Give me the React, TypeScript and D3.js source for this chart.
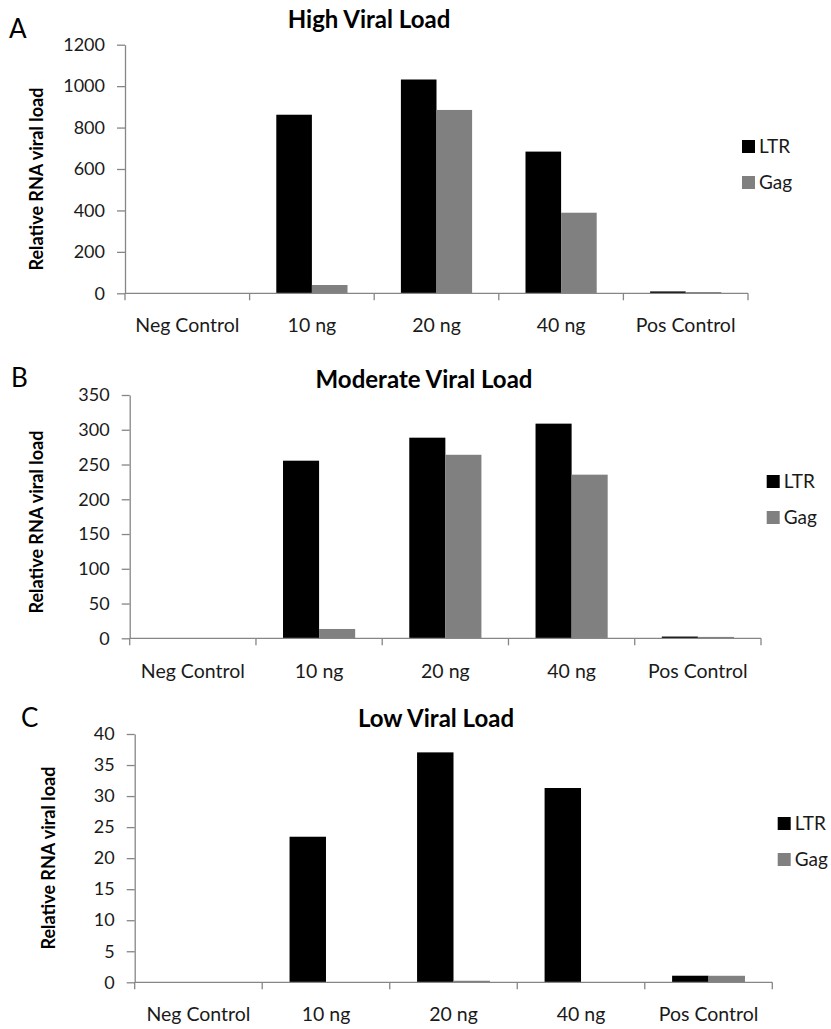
import React, { useEffect, useRef } from 'react';
import * as d3 from 'd3';

const categories = ['Neg Control', '10 ng', '20 ng', '40 ng', 'Pos Control'];
const seriesNames = ['LTR', 'Gag'];
const seriesColors = ['#000000', '#808080'];

// values
const highLTR = [0, 862, 1032, 684, 9];
const highGag = [0, 40, 885, 389, 6];
const moderateLTR = [0, 255.5, 288.6, 308.8, 2.5];
const moderateGag = [0, 13.4, 264, 235.4, 2];
const lowLTR = [0, 23.45, 37.04, 31.3, 1.06];
const lowGag = [0, 0, 0.25, 0, 1.05];

const highTicks = [0, 200, 400, 600, 800, 1000, 1200];
const moderateTicks = [0, 50, 100, 150, 200, 250, 300, 350];
const lowTicks = [0, 5, 10, 15, 20, 25, 30, 35, 40];

const FONT = 'Lato, "Open Sans", sans-serif';

const panels = [
  {
    letter: 'A', title: 'High Viral Load', ltr: highLTR, gag: highGag, ticks: highTicks,
    left: 125, right: 748, top: 44.7, bottom: 293.3,
    letterPos: [9, 38], titlePos: [369, 28], yLabel: [43, 179],
    legendX: 742, legendY: 140, labelY: 332,
  },
  {
    letter: 'B', title: 'Moderate Viral Load', ltr: moderateLTR, gag: moderateGag, ticks: moderateTicks,
    left: 129.7, right: 761, top: 395, bottom: 638.3,
    letterPos: [11, 387], titlePos: [424, 388], yLabel: [43, 522],
    legendX: 766.7, legendY: 475, labelY: 678,
  },
  {
    letter: 'C', title: 'Low Viral Load', ltr: lowLTR, gag: lowGag, ticks: lowTicks,
    left: 134.7, right: 772.3, top: 734, bottom: 982.3,
    letterPos: [21, 727], titlePos: [436, 727], yLabel: [55, 858],
    legendX: 777.7, legendY: 817, labelY: 1021,
  },
];

export default function App() {
  const svgRef = useRef<SVGSVGElement>(null);

  useEffect(() => {
    if (!svgRef.current) return;
    const svg = d3.select(svgRef.current);
    svg.selectAll('*').remove();

    panels.forEach((p) => {
      const g = svg.append('g');
      const maxV = p.ticks[p.ticks.length - 1];

      const x0 = d3.scaleBand().domain(categories).range([p.left, p.right]).padding(0);
      // Excel style gap width 150%
      const x1 = d3
        .scaleBand()
        .domain(seriesNames)
        .range([0, x0.bandwidth()])
        .paddingInner(0)
        .paddingOuter(0.75);
      const y = d3.scaleLinear().domain([0, maxV]).range([p.bottom, p.top]);

      // bars
      const rows = categories.map((c, i) => ({ cat: c, vals: [p.ltr[i], p.gag[i]] }));
      rows.forEach((r) => {
        r.vals.forEach((v, si) => {
          if (v <= 0) return;
          g.append('rect')
            .attr('x', (x0(r.cat) || 0) + (x1(seriesNames[si]) || 0))
            .attr('y', y(v))
            .attr('width', x1.bandwidth())
            .attr('height', p.bottom - y(v))
            .attr('fill', seriesColors[si]);
        });
      });

      // y axis
      const yAxis = g
        .append('g')
        .attr('transform', `translate(${p.left},0)`)
        .call(
          d3
            .axisLeft(y)
            .tickValues(p.ticks)
            .tickFormat(d3.format('d'))
            .tickSize(8)
            .tickPadding(12)
            .tickSizeOuter(0)
        );
      yAxis.select('.domain').attr('stroke', '#868686').attr('stroke-width', 1.3);
      yAxis.selectAll('.tick line').attr('stroke', '#868686').attr('stroke-width', 1.3);
      yAxis
        .selectAll('text')
        .style('font-family', FONT)
        .style('font-size', '18px')
        .style('fill', '#1a1a1a');

      // x axis
      const xAxisG = g.append('g').attr('transform', `translate(0,${p.bottom})`);
      xAxisG
        .append('line')
        .attr('x1', p.left)
        .attr('x2', p.right)
        .attr('stroke', '#868686')
        .attr('stroke-width', 1.3);
      const edges = categories.map((c) => x0(c) || 0).concat([p.right]);
      xAxisG
        .selectAll('.ctick')
        .data(edges)
        .enter()
        .append('line')
        .attr('x1', (d) => d)
        .attr('x2', (d) => d)
        .attr('y1', 0)
        .attr('y2', 7)
        .attr('stroke', '#868686')
        .attr('stroke-width', 1.3);
      g.selectAll('.clabel')
        .data(categories)
        .enter()
        .append('text')
        .attr('x', (d) => (x0(d) || 0) + x0.bandwidth() / 2)
        .attr('y', p.labelY)
        .attr('text-anchor', 'middle')
        .style('font-family', FONT)
        .style('font-size', '19.5px')
        .style('fill', '#1a1a1a')
        .text((d) => d);

      // title
      g.append('text')
        .attr('x', p.titlePos[0])
        .attr('y', p.titlePos[1])
        .attr('text-anchor', 'middle')
        .style('font-family', FONT)
        .style('font-weight', 'bold')
        .style('font-size', '24px')
        .text(p.title);

      // panel letter
      g.append('text')
        .attr('x', p.letterPos[0])
        .attr('y', p.letterPos[1])
        .style('font-family', FONT)
        .style('font-size', '26px')
        .text(p.letter);

      // y label
      g.append('text')
        .attr('transform', `translate(${p.yLabel[0]},${p.yLabel[1]}) rotate(-90)`)
        .attr('text-anchor', 'middle')
        .style('font-family', FONT)
        .style('font-weight', 'bold')
        .style('font-size', '18px')
        .text('Relative RNA viral load');

      // legend
      seriesNames.forEach((s, i) => {
        const ly = p.legendY + i * 36;
        g.append('rect')
          .attr('x', p.legendX)
          .attr('y', ly)
          .attr('width', 13)
          .attr('height', 13)
          .attr('fill', seriesColors[i]);
        g.append('text')
          .attr('x', p.legendX + 17)
          .attr('y', ly + 13)
          .style('font-family', FONT)
          .style('font-size', '19px')
          .style('fill', '#1a1a1a')
          .text(s);
      });
    });
  }, []);

  return (
    <svg
      ref={svgRef}
      width={831}
      height={1029}
      style={{ position: 'absolute', left: 0, top: 0, background: '#fff' }}
    ></svg>
  );
}
